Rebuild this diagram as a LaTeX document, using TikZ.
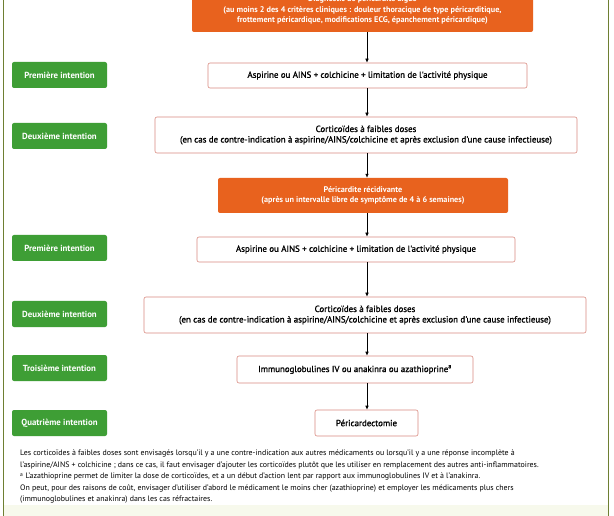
\documentclass[tikz,border=0pt]{standalone}
\usepackage{fontspec}
\setmainfont{PT Sans}
\newfontfamily\semib[FakeBold=1.2]{PT Sans}
\usetikzlibrary{arrows.meta}
\definecolor{orng}{HTML}{E8621E}
\definecolor{grn}{HTML}{3E9E35}
\definecolor{bord}{HTML}{D98A80}
\definecolor{framec}{HTML}{6E7F32}
\definecolor{tint}{HTML}{F7F9EC}
\begin{document}
\begin{tikzpicture}[x=1pt,y=-1pt,
  lab/.style={fill=grn, rounded corners=2pt, text=white, font=\bfseries\fontsize{8.8}{9}\selectfont, minimum width=95pt, minimum height=26pt, inner sep=0pt},
  wbox/.style={draw=bord, line width=0.6pt, fill=white, rounded corners=2pt, font=\semib\fontsize{8.9}{10.5}\selectfont, align=center, inner sep=0pt},
  obox/.style={fill=orng, rounded corners=2pt, text=white, font=\bfseries\fontsize{8.2}{10.5}\selectfont, align=center, inner sep=0pt},
  arr/.style={-{Latex[length=4pt,width=3.5pt]}, line width=0.6pt}]
\useasboundingbox (0,0) rectangle (614,516);
\fill[white] (0,0) rectangle (614,516);
\fill[tint] (3,505) rectangle (608,516);
\draw[framec, line width=0.8pt] (3,0) -- (3,516);
\draw[framec, line width=0.8pt] (608,0) -- (608,516);
\coordinate (ax) at (367,0);
% boxes
\node[obox, minimum width=341pt, minimum height=44pt] (top) at (362.5,10)
  {Diagnostic de péricardite aiguë\\(au moins 2 des 4 critères cliniques : douleur thoracique de type péricarditique,\\frottement péricardique, modifications ECG, épanchement péricardique)};
\node[wbox, minimum width=319pt, minimum height=25pt] (b1) at (367.5,75.5)
  {Aspirine ou AINS + colchicine + limitation de l'activité physique};
\node[wbox, minimum width=422pt, minimum height=36pt] (b2) at (366,135)
  {Corticoïdes à faibles doses\\(en cas de contre-indication à aspirine/AINS/colchicine et après exclusion d'une cause infectieuse)};
\node[obox, minimum width=290pt, minimum height=35pt] (rec) at (363,195.5)
  {Péricardite récidivante\\(après un intervalle libre de symptôme de 4 à 6 semaines)};
\node[wbox, minimum width=318pt, minimum height=25pt] (b4) at (356,249.5)
  {Aspirine ou AINS + colchicine + limitation de l'activité physique};
\node[wbox, minimum width=442pt, minimum height=36pt] (b5) at (365,315)
  {Corticoïdes à faibles doses\\(en cas de contre-indication à aspirine/AINS/colchicine et après exclusion d'une cause infectieuse)};
\node[wbox, minimum width=236pt, minimum height=27pt] (b6) at (355,369.5)
  {Immunoglobulines IV ou anakinra ou azathioprine\textsuperscript{a}};
\node[wbox, minimum width=103pt, minimum height=26pt] (b7) at (366.5,423)
  {Péricardectomie};
% labels
\node[lab] (l1) at (59.5,75) {Première intention};
\node[lab] (l2) at (59.5,136) {Deuxième intention};
\node[lab] (l3) at (59.5,248) {Première intention};
\node[lab] (l4) at (59.5,314) {Deuxième intention};
\node[lab] (l5) at (59.5,368) {Troisième intention};
\node[lab] (l6) at (59.5,423) {Quatrième intention};
% arrows
\draw[arr] (top.south -| ax) -- (b1.north -| ax);
\draw[arr] (b1.south -| ax) -- (b2.north -| ax);
\draw[arr] (b2.south -| ax) -- (rec.north -| ax);
\draw[arr] (rec.south -| ax) -- (b4.north -| ax);
\draw[arr] (b4.south -| ax) -- (b5.north -| ax);
\draw[arr] (b5.south -| ax) -- (b6.north -| ax);
\draw[arr] (b6.south -| ax) -- (b7.north -| ax);
% footnote
\node[anchor=north west, align=left, inner sep=0pt, font=\fontsize{7.9}{11.5}\selectfont] (fn) at (20,450)
  {Les corticoïdes à faibles doses sont envisagés lorsqu'il y a une contre-indication aux autres médicaments ou lorsqu'il y a une réponse incomplète à\\
   l'aspirine/AINS + colchicine ; dans ce cas, il faut envisager d'ajouter les corticoïdes plutôt que les utiliser en remplacement des autres anti-inflammatoires.\\
   \textsuperscript{a} L'azathioprine permet de limiter la dose de corticoïdes, et a un début d'action lent par rapport aux immunoglobulines IV et à l'anakinra.\\
   On peut, pour des raisons de coût, envisager d'utiliser d'abord le médicament le moins cher (azathioprine) et employer les médicaments plus chers\\
   (immunoglobulines et anakinra) dans les cas réfractaires.};
\end{tikzpicture}
\end{document}
